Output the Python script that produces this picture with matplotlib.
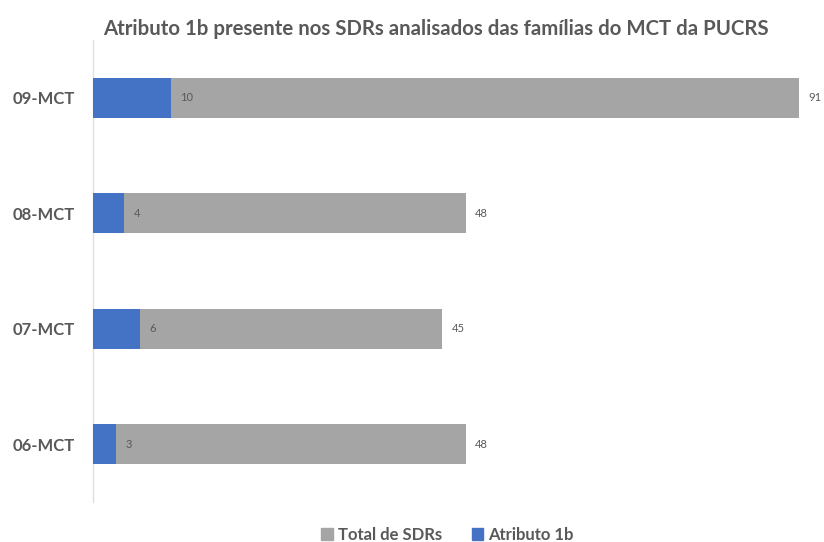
import matplotlib
matplotlib.use("Agg")
import matplotlib.pyplot as plt
from matplotlib.patches import Patch

plt.rcParams['font.family'] = ['Lato', 'DejaVu Sans']

categories = ["06-MCT", "07-MCT", "08-MCT", "09-MCT"]
total_sdrs = [48, 45, 48, 91]
atributo_1b = [3, 6, 4, 10]

GRAY = "#A5A5A5"
BLUE = "#4472C4"
TEXT = "#595959"

fig = plt.figure(figsize=(8.24, 5.42), dpi=100)
ax = fig.add_axes([0.1129, 0.0738, 0.8665, 0.8524])

ypos = list(range(len(categories)))
h = 0.35
ax.barh(ypos, total_sdrs, height=h, color=GRAY, zorder=2)
ax.barh(ypos, atributo_1b, height=h, color=BLUE, zorder=3)

for y, t, a in zip(ypos, total_sdrs, atributo_1b):
    ax.text(a + 1.2, y, str(a), va="center", ha="left", fontsize=8, color=TEXT, zorder=4)
    ax.text(t + 1.2, y, str(t), va="center", ha="left", fontsize=8, color=TEXT, zorder=4)

ax.set_xlim(0, 92)
ax.set_ylim(-0.5, 3.5)
ax.set_yticks(ypos)
ax.set_yticklabels(categories, fontsize=12, fontweight="bold", color=TEXT)
ax.tick_params(axis="y", length=0, pad=13)
ax.set_xticks([])
for s in ["top", "right", "bottom"]:
    ax.spines[s].set_visible(False)
ax.spines["left"].set_color("#E0E0E0")
ax.spines["left"].set_linewidth(1.0)

fig.text(0.529, 0.946, "Atributo 1b presente nos SDRs analisados das famílias do MCT da PUCRS",
         ha="center", va="center", fontsize=14.7, fontweight="bold", color=TEXT)

handles = [Patch(color=GRAY, label="Total de SDRs"), Patch(color=BLUE, label="Atributo 1b")]
leg = fig.legend(handles=handles, loc="center", bbox_to_anchor=(0.543, 0.013), ncol=2,
                 frameon=False, fontsize=12, handlelength=0.7, handleheight=0.7,
                 handletextpad=0.3, columnspacing=1.8)
for t in leg.get_texts():
    t.set_color(TEXT)
    t.set_fontweight("bold")

fig.savefig("out.png", dpi=100)
